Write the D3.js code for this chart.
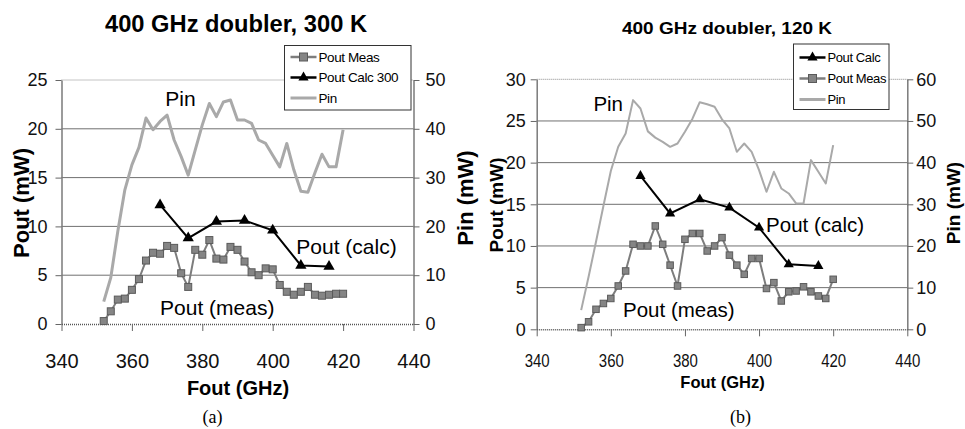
<!DOCTYPE html>
<html>
<head>
<meta charset="utf-8">
<script src="https://cdn.jsdelivr.net/npm/d3@7"></script>
<style>
  body { margin: 0; background: #fff; }
  svg { display: block; font-family: "Liberation Sans", Arial, sans-serif; }
</style>
</head>
<body>
<div id="chart"></div>
<script>
// Data
const freqMeas = [352, 354, 356, 358, 360, 362, 364, 366, 368, 370, 372, 374, 376, 378, 380, 382, 384, 386,
                  388, 390, 392, 394, 396, 398, 400, 402, 404, 406, 408, 410, 412, 414, 416, 418, 420];
const freqCalc = [368, 376, 384, 392, 400, 408, 416];
const xTicks = [340, 360, 380, 400, 420, 440];

// (a) 300 K
const poutMeas300 = [0.3, 1.3, 2.5, 2.6, 3.5, 4.6, 6.5, 7.3, 7.2, 8.0, 7.8, 5.2, 3.8, 7.6, 7.1, 8.6, 6.7, 6.6,
                     7.9, 7.6, 6.4, 5.3, 5.0, 5.7, 5.6, 4.0, 3.3, 3.0, 3.3, 3.8, 3.0, 2.9, 3.0, 3.1, 3.1];
const poutCalc300 = [12.2, 8.8, 10.5, 10.6, 9.6, 6.0, 5.9];
const pin300 = [4.6, 9.5, 19.0, 27.5, 32.6, 36.2, 42.2, 39.8, 41.5, 42.8, 37.7, 34.3, 30.5, 35.7, 40.8, 45.2, 42.5, 45.5,
                45.9, 41.8, 41.8, 41.1, 37.7, 37.0, 34.6, 32.2, 37.0, 31.6, 27.2, 27.0, 31.0, 34.8, 32.2, 32.2, 39.8];
const yTicks300 = [0, 5, 10, 15, 20, 25];
const yTicksPin300 = [0, 10, 20, 30, 40, 50];

// (b) 120 K
const poutMeas120 = [0.2, 0.9, 2.4, 3.1, 3.7, 5.2, 7.0, 10.2, 10.0, 10.0, 12.4, 10.2, 7.7, 5.2, 10.8, 11.5, 11.5, 9.4,
                     10.0, 11.0, 8.9, 7.7, 6.6, 8.5, 8.5, 4.9, 5.6, 3.4, 4.5, 4.6, 5.1, 4.5, 4.0, 3.7, 6.0];
const poutCalc120 = [18.4, 13.9, 15.6, 14.6, 12.2, 7.8, 7.6];
const pin120 = [4.6, 12.6, 21.0, 29.6, 38.0, 43.8, 47.0, 55.0, 53.0, 47.5, 46.0, 45.0, 43.8, 44.6, 47.4, 50.5, 54.5, 54.0,
                53.4, 50.4, 48.2, 42.6, 44.6, 42.6, 38.2, 33.0, 37.8, 33.8, 32.6, 30.2, 30.2, 40.6, 37.8, 35.0, 44.2];
const yTicks120 = [0, 5, 10, 15, 20, 25, 30];
const yTicksPin120 = [0, 10, 20, 30, 40, 50, 60];

const svg = d3.select("#chart").append("svg")
  .attr("width", 965).attr("height", 429);

const measColor = "#7d7d7d", pinColor = "#a9a9a9", gridColor = "#707070";

function drawPanel(p) {
  const g = svg.append("g");
  const x = d3.scaleLinear().domain([340, 440]).range([p.left, p.right]);
  const yL = d3.scaleLinear().domain([0, d3.max(p.yTicks)]).range([p.bottom, p.top]);
  const yR = d3.scaleLinear().domain([0, d3.max(p.yTicksPin)]).range([p.bottom, p.top]);

  // gridlines
  g.selectAll(".grid")
    .data(p.yTicks.slice(1, -1))
    .enter().append("line")
      .attr("x1", p.left).attr("x2", p.right)
      .attr("y1", d => yL(d)).attr("y2", d => yL(d))
      .attr("stroke", gridColor).attr("stroke-width", 1);
  g.append("line")
    .attr("x1", p.left).attr("x2", p.right)
    .attr("y1", yL(d3.max(p.yTicks))).attr("y2", yL(d3.max(p.yTicks)))
    .attr("stroke", "#888").attr("stroke-dasharray", "1,1");

  // axes
  const styleAxis = sel => {
    sel.select(".domain").attr("stroke", "#7a7a7a").attr("stroke-width", 1.5);
    sel.selectAll(".tick line").attr("stroke", "#666");
    sel.selectAll("text").attr("fill", "#111").style("font-family", "Liberation Sans, Arial, sans-serif");
  };
  g.append("g")
    .attr("transform", "translate(" + p.left + ",0)")
    .call(d3.axisLeft(yL).tickValues(p.yTicks).tickSize(6).tickSizeOuter(0).tickPadding(p.padL))
    .call(styleAxis)
    .selectAll("text").style("font-size", p.yFont + "px");
  g.append("g")
    .attr("transform", "translate(" + p.right + ",0)")
    .call(d3.axisRight(yR).tickValues(p.yTicksPin).tickSize(6).tickSizeOuter(0).tickPadding(p.padR))
    .call(styleAxis)
    .selectAll("text").style("font-size", p.yFont + "px");
  const xAx = g.append("g")
    .attr("transform", "translate(0," + p.bottom + ")")
    .call(d3.axisBottom(x).tickValues(xTicks).tickSize(7).tickSizeOuter(0).tickPadding(p.padX))
    .call(styleAxis);
  xAx.select(".domain").attr("stroke-dasharray", "1,1").attr("stroke", "#555");
  xAx.selectAll("text").style("font-size", p.xFont + "px");
  if (p.xTextLen) {
    xAx.selectAll("text").attr("textLength", p.xTextLen).attr("lengthAdjust", "spacingAndGlyphs");
  }

  // Pin line
  g.append("path")
    .datum(freqMeas.map((f, i) => [f, p.pin[i]]))
    .attr("fill", "none").attr("stroke", pinColor).attr("stroke-width", p.pinWidth)
    .attr("stroke-linejoin", "round")
    .attr("d", d3.line().x(d => x(d[0])).y(d => yR(d[1])));

  // Pout measured
  const meas = freqMeas.map((f, i) => [f, p.meas[i]]);
  g.append("path")
    .datum(meas)
    .attr("fill", "none").attr("stroke", measColor).attr("stroke-width", 2)
    .attr("d", d3.line().x(d => x(d[0])).y(d => yL(d[1])));
  g.selectAll(".sq")
    .data(meas)
    .enter().append("rect")
      .attr("x", d => x(d[0]) - p.sq / 2).attr("y", d => yL(d[1]) - p.sq / 2)
      .attr("width", p.sq).attr("height", p.sq)
      .attr("fill", "#858585").attr("stroke", "#5a5a5a").attr("stroke-width", 1);

  // Pout calculated
  const calc = freqCalc.map((f, i) => [f, p.calc[i]]);
  g.append("path")
    .datum(calc)
    .attr("fill", "none").attr("stroke", "#000").attr("stroke-width", 2)
    .attr("d", d3.line().x(d => x(d[0])).y(d => yL(d[1])));
  g.selectAll(".tri")
    .data(calc)
    .enter().append("path")
      .attr("d", d3.symbol(d3.symbolTriangle).size(p.tri))
      .attr("transform", d => "translate(" + x(d[0]) + "," + yL(d[1]) + ")")
      .attr("fill", "#000");

  // annotations
  p.notes.forEach(n => {
    g.append("text")
      .attr("x", x(n.f)).attr("y", yL(n.v))
      .style("font-size", p.noteFont + "px")
      .text(n.t);
  });

  // legend
  const lg = g.append("g");
  lg.append("rect")
    .attr("x", p.leg.x).attr("y", p.leg.y).attr("width", p.leg.w).attr("height", p.leg.h)
    .attr("fill", "#fff").attr("stroke", "#333").attr("stroke-width", 1);
  p.leg.items.forEach((it, i) => {
    const cy = p.leg.y + p.leg.first + i * p.leg.step;
    const x0 = p.leg.x + 6, x1 = x0 + p.leg.sample;
    lg.append("line").attr("x1", x0).attr("x2", x1).attr("y1", cy).attr("y2", cy)
      .attr("stroke", it.k === "pin" ? pinColor : (it.k === "meas" ? measColor : "#000"))
      .attr("stroke-width", it.k === "pin" ? 3 : 2.5);
    if (it.k === "meas") {
      lg.append("rect").attr("x", (x0 + x1) / 2 - 4).attr("y", cy - 4).attr("width", 8).attr("height", 8)
        .attr("fill", "#858585").attr("stroke", "#5a5a5a");
    } else if (it.k === "calc") {
      lg.append("path").attr("d", d3.symbol(d3.symbolTriangle).size(45))
        .attr("transform", "translate(" + (x0 + x1) / 2 + "," + cy + ")");
    }
    lg.append("text").attr("x", x1 + 2).attr("y", cy).attr("dy", "0.35em")
      .style("font-size", p.leg.font + "px").style("letter-spacing", "-0.4px")
      .text(it.t);
  });

  // titles
  g.append("text")
    .attr("x", p.title.x).attr("y", p.title.y).attr("text-anchor", "middle")
    .style("font-size", p.title.size + "px").style("font-weight", "bold")
    .attr("textLength", p.title.len).attr("lengthAdjust", "spacingAndGlyphs")
    .text(p.title.t);
  g.append("text")
    .attr("transform", "translate(" + p.yTitle.x + "," + p.yTitle.y + ") rotate(-90)")
    .attr("text-anchor", "middle")
    .style("font-size", p.yTitle.size + "px").style("font-weight", "bold")
    .text("Pout (mW)");
  g.append("text")
    .attr("transform", "translate(" + p.pinTitle.x + "," + p.pinTitle.y + ") rotate(-90)")
    .attr("text-anchor", "middle")
    .style("font-size", p.pinTitle.size + "px").style("font-weight", "bold")
    .text("Pin (mW)");
  g.append("text")
    .attr("x", p.xTitle.x).attr("y", p.xTitle.y).attr("text-anchor", "middle")
    .style("font-size", p.xTitle.size + "px").style("font-weight", "bold")
    .text("Fout (GHz)");
  g.append("text")
    .attr("x", p.cap.x).attr("y", 423).attr("text-anchor", "middle")
    .style("font-family", "Liberation Serif, Times New Roman, serif").style("font-size", "18px")
    .text(p.cap.t);
}

drawPanel({
  left: 61.5, right: 413.5, top: 80, bottom: 324,
  yTicks: yTicks300, yTicksPin: yTicksPin300,
  meas: poutMeas300, calc: poutCalc300, pin: pin300,
  padL: 8, padR: 6, padX: 23, yFont: 18, xFont: 20, xTextLen: null,
  pinWidth: 3, sq: 7, tri: 55, noteFont: 21,
  notes: [{t: "Pin", f: 369.5, v: 22.3}, {t: "Pout (calc)", f: 406.7, v: 7.2}, {t: "Pout (meas)", f: 368, v: 0.9}],
  leg: {x: 284.5, y: 45.5, w: 126.5, h: 64.5, first: 11.5, step: 20.5, sample: 26, font: 13.5,
        items: [{k: "meas", t: "Pout Meas"}, {k: "calc", t: "Pout Calc 300"}, {k: "pin", t: "Pin"}]},
  title: {t: "400 GHz doubler, 300 K", x: 236, y: 32, size: 23, len: 262},
  yTitle: {x: 29, y: 203, size: 22},
  pinTitle: {x: 473, y: 198, size: 22},
  xTitle: {x: 238, y: 395, size: 20},
  cap: {t: "(a)", x: 212.5}
});

drawPanel({
  left: 536.7, right: 907.3, top: 79.3, bottom: 329.3,
  yTicks: yTicks120, yTicksPin: yTicksPin120,
  meas: poutMeas120, calc: poutCalc120, pin: pin120,
  padL: 5, padR: 3, padX: 18, yFont: 18, xFont: 18, xTextLen: 25,
  pinWidth: 2, sq: 6.5, tri: 45, noteFont: 20.5,
  notes: [{t: "Pin", f: 355.3, v: 26.2}, {t: "Pout (calc)", f: 401.9, v: 11.7}, {t: "Pout (meas)", f: 363.3, v: 1.5}],
  leg: {x: 793.5, y: 44, w: 95.5, h: 65.5, first: 13.5, step: 21, sample: 26, font: 13,
        items: [{k: "calc", t: "Pout Calc"}, {k: "meas", t: "Pout Meas"}, {k: "pin", t: "Pin"}]},
  title: {t: "400 GHz doubler, 120 K", x: 727, y: 34, size: 16.5, len: 210},
  yTitle: {x: 503, y: 205, size: 19},
  pinTitle: {x: 960, y: 203, size: 19},
  xTitle: {x: 722.5, y: 388, size: 16.5},
  cap: {t: "(b)", x: 740.5}
});
</script>
</body>
</html>
